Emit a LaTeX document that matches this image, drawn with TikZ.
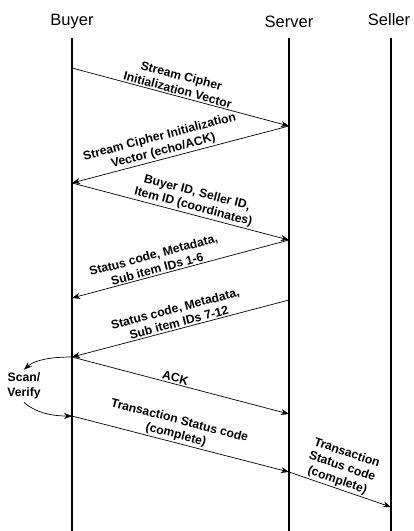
\documentclass[tikz,border=0pt]{standalone}
\usepackage{fontspec}
\setmainfont{Liberation Sans}
\usetikzlibrary{arrows.meta}
\begin{document}
\begin{tikzpicture}[x=1pt,y=-1pt,
  life/.style={line width=1.6pt},
  msg/.style={line width=0.7pt,-{Stealth[length=8pt,width=6pt]}},
  lbl/.style={font=\bfseries\fontsize{12.2}{14.5}\selectfont, align=center, sloped, above, inner sep=1.5pt},
  hdr/.style={font=\fontsize{16.5}{19}\selectfont, anchor=base}]
\useasboundingbox (0,0) rectangle (414,531);
\node[hdr] (hb) at (72,25) {Buyer};
\node[hdr] (hs) at (289,27) {Server};
\node[hdr] (hl) at (389,25) {Seller};
\coordinate (bt) at (72,38);  \coordinate (bb) at (72,531);
\coordinate (st) at (289,38); \coordinate (sb) at (289,531);
\coordinate (lt) at (391,38); \coordinate (lb) at (391,531);
\draw[life] (bt) -- (bb);
\draw[life] (st) -- (sb);
\draw[life] (lt) -- (lb);
\coordinate (b1) at (72,68);  \coordinate (s1) at (289,126);
\coordinate (b2) at (72,183); \coordinate (s2) at (289,240);
\coordinate (b3) at (72,298); \coordinate (s3) at (289,300);
\coordinate (b4) at (72,357); \coordinate (s4) at (289,414);
\coordinate (b5) at (72,416); \coordinate (s5) at (289,472);
\coordinate (l5) at (391,507);
\draw[msg] (b1) -- node[lbl, pos=0.48] {Stream Cipher\\Initialization Vector} (s1);
\draw[msg] (s1) -- node[lbl, pos=0.57] {Stream Cipher Initialization\\Vector (echo/ACK)} (b2);
\draw[msg] (b2) -- node[lbl, pos=0.55] {Buyer ID, Seller ID,\\Item ID (coordinates)} (s2);
\draw[msg] (s2) -- node[lbl, pos=0.6] {Status code, Metadata,\\Sub item IDs 1-6} (b3);
\draw[msg] (s3) -- node[lbl, pos=0.5] {Status code, Metadata,\\Sub item IDs 7-12} (b4);
\draw[msg] (b4) -- node[lbl, pos=0.47] {ACK} (s4);
\draw[msg] (b5) -- node[lbl, pos=0.47] {Transaction Status code\\(complete)} (s5);
\draw[msg] (s5) -- node[lbl, pos=0.45] {Transaction\\Status code\\(complete)} (l5);
\node[font=\bfseries\fontsize{12.2}{14.5}\selectfont, align=center] (sv) at (24,386) {Scan/\\Verify};
\draw[msg] (b4) .. controls (50,357) and (35,360) .. (sv.north);
\draw[msg] (sv.south) .. controls (35,412) and (50,416) .. (b5);
\end{tikzpicture}
\end{document}
